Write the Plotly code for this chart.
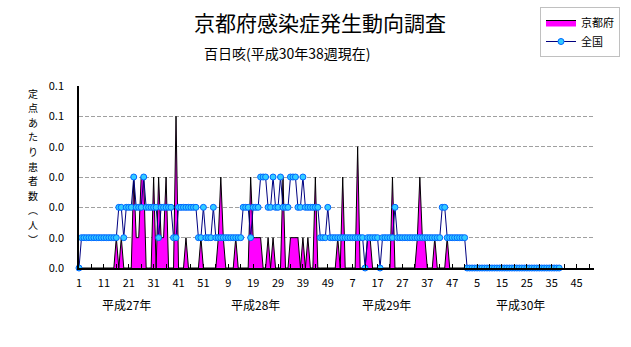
import plotly.graph_objects as go

FONT = "Noto Sans CJK JP, Noto Sans, sans-serif"

# ---------------- text ----------------
title_text = "京都府感染症発生動向調査"
subtitle_text = "百日咳(平成30年38週現在)"
series_names = ["京都府", "全国"]
y_title_chars = ["定", "点", "あ", "た", "り", "患", "者", "数", "︵", "人", "︶"]
xtick_labels = ["1", "11", "21", "31", "41", "51", "9", "19", "29", "39", "49",
                "7", "17", "27", "37", "47", "5", "15", "25", "35", "45"]
year_labels = ["平成27年", "平成28年", "平成29年", "平成30年"]
ytick_values = [0, 0.01, 0.02, 0.03, 0.04, 0.05, 0.06]
ytick_labels = ["0.0", "0.0", "0.0", "0.0", "0.0", "0.1", "0.1"]

# ---------------- data (per sentinel, weekly) ----------------
kyoto_2015 = [0, 0, 0, 0, 0, 0, 0, 0, 0, 0,
              0, 0, 0, 0, 0, 0.01, 0, 0.01, 0, 0,
              0, 0, 0.03, 0.01, 0.01, 0.03, 0.03, 0, 0, 0,
              0.03, 0, 0.03, 0.01, 0.01, 0.03, 0, 0, 0, 0.05,
              0, 0, 0, 0.01, 0, 0, 0, 0, 0, 0.01,
              0, 0]
kyoto_2016 = [0, 0, 0, 0, 0.01, 0.03, 0.01, 0, 0, 0,
              0, 0.01, 0, 0, 0, 0, 0, 0.03, 0.01, 0.01,
              0.01, 0.01, 0, 0, 0.01, 0, 0.01, 0, 0, 0,
              0.03, 0, 0, 0.01, 0.01, 0.01, 0.01, 0, 0.01, 0,
              0.01, 0, 0, 0.03, 0, 0, 0, 0, 0, 0,
              0, 0]
kyoto_2017 = [0.01, 0, 0.03, 0, 0, 0, 0, 0, 0.04, 0,
              0, 0, 0.01, 0.01, 0, 0, 0, 0, 0, 0,
              0, 0, 0.03, 0, 0, 0, 0, 0, 0, 0,
              0, 0, 0.01, 0.03, 0.01, 0.01, 0, 0, 0, 0.01,
              0, 0, 0, 0, 0.01, 0, 0, 0, 0, 0,
              0, 0]
kyoto_2018 = [0, 0, 0, 0, 0, 0, 0, 0, 0, 0,
              0, 0, 0, 0, 0, 0, 0, 0, 0, 0,
              0, 0, 0, 0, 0, 0, 0, 0, 0, 0,
              0, 0, 0, 0, 0, 0, 0, 0]

national_2015 = [0, 0.01, 0.01, 0.01, 0.01, 0.01, 0.01, 0.01, 0.01, 0.01,
                 0.01, 0.01, 0.01, 0.01, 0.01, 0.01, 0.02, 0.02, 0.01, 0.02,
                 0.02, 0.02, 0.03, 0.02, 0.02, 0.02, 0.03, 0.02, 0.02, 0.02,
                 0.02, 0.02, 0.01, 0.02, 0.02, 0.02, 0.02, 0.02, 0.01, 0.01,
                 0.02, 0.02, 0.02, 0.02, 0.02, 0.02, 0.02, 0.02, 0.01, 0.01,
                 0.02, 0.01]
national_2016 = [0.01, 0.01, 0.02, 0.01, 0.01, 0.01, 0.01, 0.01, 0.01, 0.01,
                 0.01, 0.01, 0.01, 0.01, 0.02, 0.02, 0.02, 0.01, 0.02, 0.02,
                 0.02, 0.03, 0.03, 0.03, 0.02, 0.02, 0.03, 0.02, 0.02, 0.03,
                 0.02, 0.02, 0.02, 0.03, 0.03, 0.03, 0.02, 0.02, 0.03, 0.02,
                 0.02, 0.02, 0.02, 0.02, 0.02, 0.01, 0.01, 0.01, 0.02, 0.01,
                 0.01, 0.01]
national_2017 = [0.01, 0.01, 0.01, 0.01, 0.01, 0.01, 0.01, 0.01, 0.01, 0.01,
                 0.01, 0, 0.01, 0.01, 0.01, 0.01, 0.01, 0, 0.01, 0.01,
                 0.01, 0.01, 0.01, 0.02, 0.01, 0.01, 0.01, 0.01, 0.01, 0.01,
                 0.01, 0.01, 0.01, 0.01, 0.01, 0.01, 0.01, 0.01, 0.01, 0.01,
                 0.01, 0.01, 0.02, 0.02, 0.01, 0.01, 0.01, 0.01, 0.01, 0.01,
                 0.01, 0.01]
national_2018 = [0, 0, 0, 0, 0, 0, 0, 0, 0, 0,
                 0, 0, 0, 0, 0, 0, 0, 0, 0, 0,
                 0, 0, 0, 0, 0, 0, 0, 0, 0, 0,
                 0, 0, 0, 0, 0, 0, 0, 0]

kyoto = kyoto_2015 + kyoto_2016 + kyoto_2017 + kyoto_2018
national = national_2015 + national_2016 + national_2017 + national_2018
weeks = list(range(1, len(national) + 1))
n_categories = 4 * 52

# ---------------- layout helpers ----------------
W, H = 631, 347
L, R, T, B = 79, 37, 86, 79
PW, PH = W - L - R, H - T - B


def px(x):
    return (x - L) / PW


def py(y):
    return (H - B - y) / PH


fig = go.Figure()
fig.add_trace(go.Scatter(
    x=weeks, y=kyoto, name=series_names[0], mode="lines",
    fill="tozeroy", fillcolor="#FF00FF",
    line=dict(color="black", width=1), cliponaxis=False,
))
fig.add_trace(go.Scatter(
    x=weeks, y=national, name=series_names[1], mode="lines+markers",
    line=dict(color="#000080", width=1),
    marker=dict(size=6, color="#33CCFF", line=dict(color="#0066FF", width=1)),
    cliponaxis=False,
))

tickvals = [1 + 10 * k for k in range(len(xtick_labels))]

fig.update_layout(
    width=W, height=H,
    margin=dict(l=L, r=R, t=T, b=B, pad=0, autoexpand=False),
    paper_bgcolor="white", plot_bgcolor="white",
    font=dict(family=FONT, size=11, color="black"),
    showlegend=True,
    legend=dict(
        x=px(540), y=py(7), xanchor="left", yanchor="top",
        bordercolor="#C0C0C0", borderwidth=1, bgcolor="white",
        font=dict(family=FONT, size=11, color="black"),
        tracegroupgap=0, itemwidth=30,
    ),
    xaxis=dict(
        range=[1, n_categories], showgrid=False, zeroline=False,
        showline=True, linecolor="black", linewidth=1.5,
        ticks="inside", ticklen=4, tickcolor="black",
        tickvals=tickvals, ticktext=xtick_labels,
        minor=dict(ticks="inside", ticklen=4, tickcolor="black",
                   tick0=1, dtick=5, showgrid=False),
        ticklabelstandoff=4,
        tickfont=dict(family=FONT, size=11),
    ),
    yaxis=dict(
        range=[0, 0.06], showgrid=True, gridcolor="#A0A0A0",
        griddash="4px,2px", gridwidth=1, zeroline=False,
        showline=True, linecolor="black", linewidth=1.5,
        tickvals=ytick_values, ticktext=ytick_labels, ticks="",
        ticklabelstandoff=11,
        tickfont=dict(family=FONT, size=11),
    ),
)

annotations = [
    dict(text=title_text, x=px(320), y=py(22), font=dict(size=21)),
    dict(text=subtitle_text, x=px(287), y=py(53), font=dict(size=14)),
]
year_px = [126, 255, 386, 520]
for label, xc in zip(year_labels, year_px):
    annotations.append(dict(text=label, x=px(xc), y=py(304), font=dict(size=12)))
# vertical (stacked) axis title, one character per line
for k, ch in enumerate(y_title_chars):
    annotations.append(dict(text=ch, x=px(33), y=py(93 + 14.6 * k),
                            font=dict(size=10)))

for a in annotations:
    a.update(xref="paper", yref="paper", xanchor="center", yanchor="middle",
             showarrow=False)
    a["font"] = dict(family=FONT, color="black", **a["font"])
fig.update_layout(annotations=annotations)

fig.write_html("out.html")
